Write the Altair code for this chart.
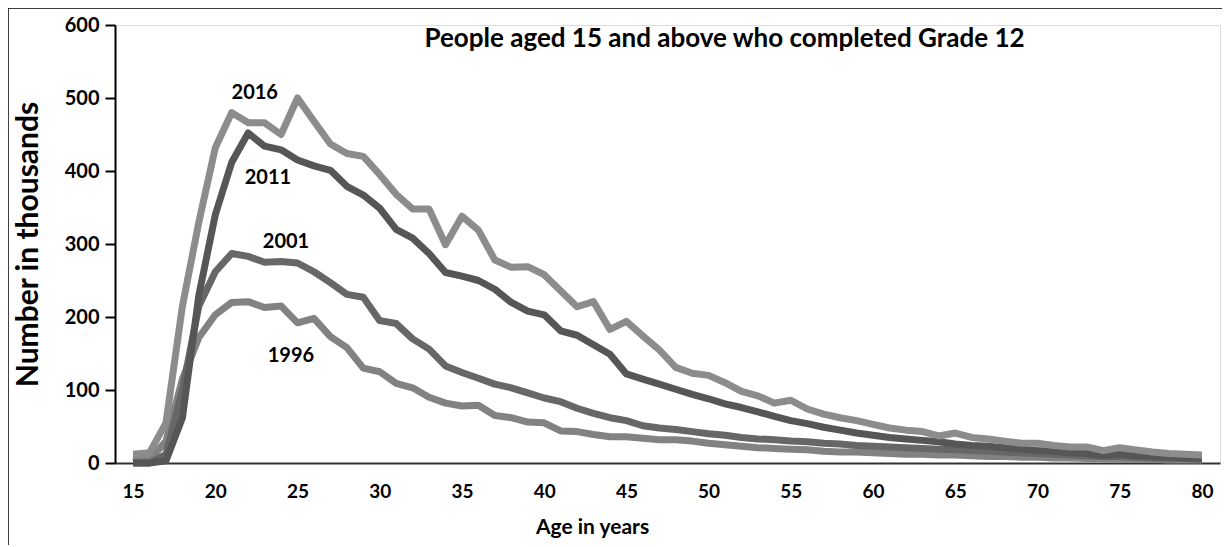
import altair as alt
import pandas as pd

ages = list(range(15, 81))

v2016 = [12, 14, 55, 215, 330, 432, 480, 466, 466, 450, 500, 468, 437, 424, 420, 395, 368, 348, 348, 299,
         338, 319, 278, 268, 269, 258, 236, 214, 221, 183, 194, 174, 155, 131, 123, 120, 110, 98, 92, 82,
         86, 74, 67, 62, 58, 53, 48, 45, 43, 37, 41, 35, 33, 30, 27, 27, 24, 22, 22, 17,
         21, 18, 15, 13, 12, 11]
v2011 = [0, 0, 3, 62, 230, 340, 412, 452, 434, 429, 415, 407, 401, 379, 367, 349, 320, 308, 287, 261,
         256, 250, 238, 220, 208, 203, 181, 175, 162, 149, 122, 115, 108, 101, 94, 88, 81, 76, 70, 64,
         58, 54, 49, 45, 41, 38, 35, 33, 31, 29, 26, 24, 23, 21, 19, 17, 16, 14, 13, 10,
         12, 10, 9, 8, 7, 6]
v2001 = [0, 0, 12, 100, 215, 262, 287, 283, 275, 276, 274, 262, 247, 231, 227, 195, 191, 170, 156, 133,
         124, 116, 108, 103, 96, 89, 84, 75, 68, 62, 58, 51, 48, 46, 43, 40, 38, 35, 33, 32,
         30, 29, 27, 26, 24, 23, 22, 21, 20, 19, 18, 17, 16, 15, 14, 13, 12, 11, 10, 9,
         9, 8, 7, 6, 6, 5]
v1996 = [8, 4, 30, 115, 172, 203, 220, 221, 213, 215, 192, 198, 173, 158, 130, 125, 109, 103, 90, 82,
         78, 79, 65, 62, 56, 55, 44, 43, 39, 36, 36, 34, 32, 32, 30, 27, 25, 23, 21, 20,
         19, 18, 16, 15, 15, 14, 13, 12, 12, 11, 11, 10, 9, 9, 8, 8, 7, 7, 6, 6,
         5, 5, 5, 4, 4, 4]

series_names = ["1996", "2001", "2011", "2016"]
series_colors = ["#828282", "#676767", "#565656", "#8c8c8c"]

label_text = ["2016", "2011", "2001", "1996"]
label_age = [22.4, 23.2, 24.3, 24.6]
label_val = [507, 391, 303, 147]

rows = []
for name, vals in zip(series_names, [v1996, v2001, v2011, v2016]):
    for a, v in zip(ages, vals):
        rows.append({"age": a, "value": v, "year": name})
df = pd.DataFrame(rows)
labels = pd.DataFrame({"text": label_text, "age": label_age, "value": label_val})

FONT = "Lato"
W, H = 1105, 438

xscale = alt.Scale(domain=[13.9, 81.1], nice=False, zero=False)
yscale = alt.Scale(domain=[0, 600], nice=False)

lines = alt.Chart(df).mark_line(strokeWidth=7, strokeJoin="round", strokeCap="butt").encode(
    x=alt.X("age:Q", scale=xscale,
            axis=alt.Axis(values=list(range(15, 81, 5)), title="Age in years", ticks=False, grid=False,
                          domainColor="#333333", domainWidth=2, labelFont=FONT, labelFontWeight="bold",
                          labelFontSize=19, labelColor="black", labelPadding=19,
                          titleFont=FONT, titleFontSize=21, titleFontWeight="bold", titleColor="black",
                          titlePadding=15, titleX=477)),
    y=alt.Y("value:Q", scale=yscale,
            axis=alt.Axis(values=list(range(0, 601, 100)), title="Number in thousands", grid=False,
                          domainColor="black", domainWidth=2, tickColor="black", tickWidth=2, tickSize=10,
                          labelFont=FONT, labelFontWeight="bold", labelFontSize=20, labelColor="black",
                          labelPadding=6, titleFont=FONT, titleFontSize=30, titleFontWeight="bold",
                          titleColor="black", titlePadding=21)),
    color=alt.Color("year:N", scale=alt.Scale(domain=series_names, range=series_colors), legend=None),
    order=alt.Order("year:N"),
    detail="year:N",
)

text = alt.Chart(labels).mark_text(font=FONT, fontSize=20, fontWeight="bold", color="black").encode(
    x=alt.X("age:Q", scale=xscale),
    y=alt.Y("value:Q", scale=yscale),
    text="text:N",
)

frame = alt.Chart(pd.DataFrame({"a": [0]})).mark_rect(fill=None, stroke="black", strokeWidth=1.5).encode(
    x=alt.value(-107), x2=alt.value(W + 20), y=alt.value(-17), y2=alt.value(H + 120)
)

chart = alt.layer(frame, lines, text).properties(
    width=W, height=H,
    title=alt.TitleParams("People aged 15 and above who completed Grade 12", font=FONT, fontSize=26,
                          fontWeight="bold", color="black", anchor="middle", dx=57, dy=45, offset=0),
    autosize=alt.AutoSizeParams(type="none"),
    padding={"left": 107, "top": 17, "right": 2, "bottom": 82},
).configure_view(stroke=None).configure(background="white")

chart.save("out.html", embed_options={"renderer": "svg", "actions": False})
